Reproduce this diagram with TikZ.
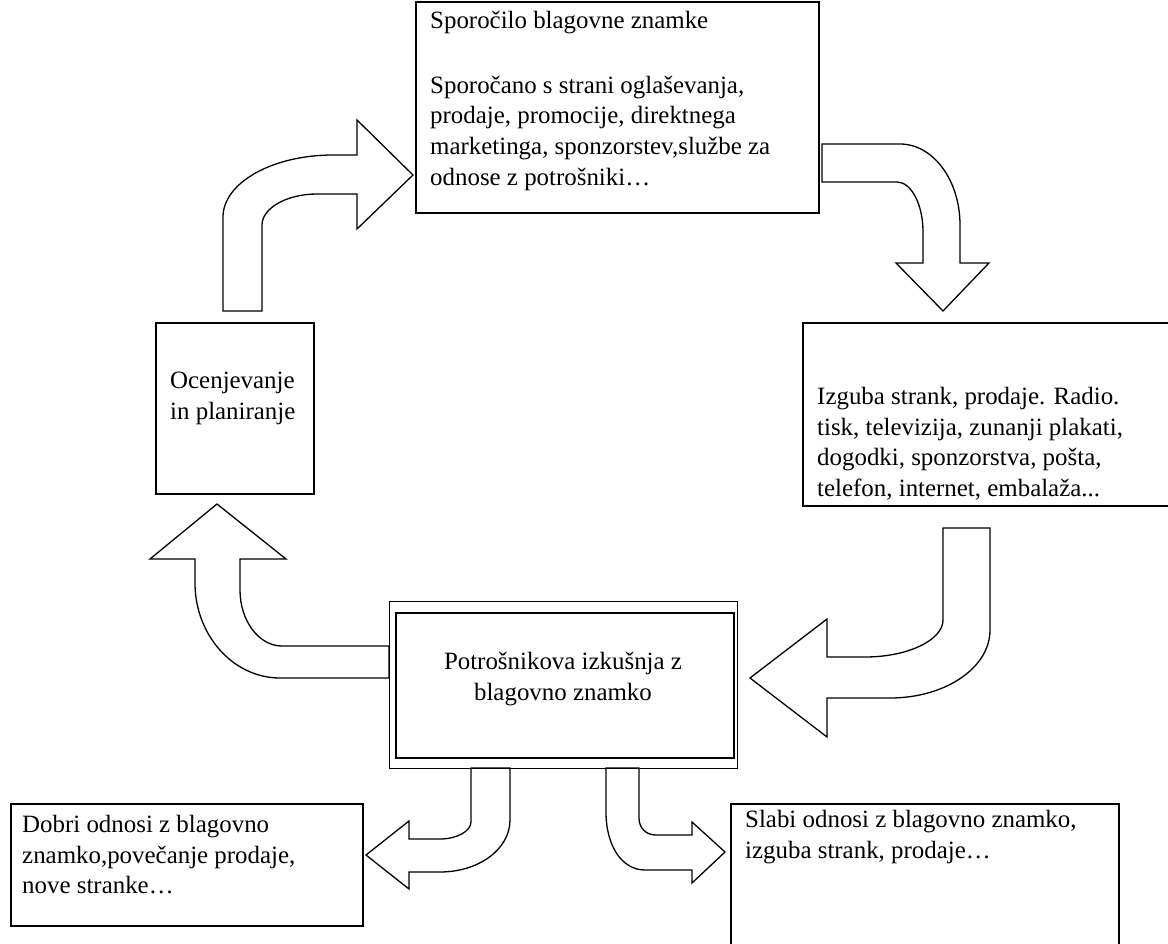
\documentclass[tikz,border=0pt]{standalone}
\usepackage{fontspec}
\setmainfont{Liberation Serif}
\usetikzlibrary{positioning}

\tikzset{
  box/.style={draw, line width=1.5bp, inner sep=0pt, anchor=north west},
  boxtext/.style={inner sep=0pt, anchor=north west, align=left,
    font=\fontsize{25}{31}\selectfont},
  bentarrow/.style={draw, line width=1.3bp, line join=miter, fill=white},
}

\begin{document}
\begin{tikzpicture}[x=1bp,y=-1bp]
\useasboundingbox (0,0) rectangle (1168,944);
\clip (0,0) rectangle (1168,944);

% block arrows
\draw[bentarrow] (223,311) -- (223,217) .. controls (223,183) and (272,155) .. (333,155)
  -- (357,155) -- (357,120) -- (413,175) -- (357,229) -- (357,194) -- (317,194)
  .. controls (287,194) and (262,208) .. (262,225) -- (262,311) -- cycle;
\draw[bentarrow] (822,144) -- (900,144) .. controls (933,144) and (960,180) .. (960,225)
  -- (960,263) -- (989,263) -- (943,311) -- (896,263) -- (923,263) -- (923,232)
  .. controls (923,204) and (911,182) .. (897,182) -- (822,182) -- cycle;
\draw[bentarrow] (943,528) -- (990,528) -- (990,630) .. controls (990,668) and (945,698) .. (890,698)
  -- (827,698) -- (827,737) -- (750,678) -- (827,619) -- (827,657) -- (865,657)
  .. controls (908,657) and (943,640) .. (943,620) -- cycle;
\draw[bentarrow] (389,646) -- (282,646) .. controls (259,646) and (240,621) .. (240,590)
  -- (240,559) -- (286,559) -- (217,504) -- (150,559) -- (195,559) -- (195,583)
  .. controls (195,635) and (233,678) .. (280,678) -- (389,678) -- cycle;
\draw[bentarrow] (471,768) -- (471,822) .. controls (471,831) and (457,839) .. (440,839)
  -- (409,839) -- (409,821) -- (366,855) -- (409,889) -- (409,872) -- (440,872)
  .. controls (479,872) and (510,849) .. (510,820) -- (510,768) -- cycle;
\draw[bentarrow] (606,768) -- (606,812) .. controls (606,846) and (622,870) .. (645,870)
  -- (692,870) -- (692,883) -- (725,852) -- (692,822) -- (692,835) -- (656,835)
  .. controls (646,835) and (639,828) .. (639,818) -- (639,768) -- cycle;

% boxes
\node[box, minimum width=403bp, minimum height=211bp] (message) at (415,1) {};
\node[box, minimum width=400bp, minimum height=183bp] (media) at (802,322) {};
\node[box, minimum width=158bp, minimum height=171bp] (plan) at (155,322) {};
\node[box, line width=1bp, minimum width=348bp, minimum height=167bp] (experience) at (389,601) {};
\node[box, line width=1.8bp, minimum width=338bp, minimum height=145bp] (experiencein) at (395,612) {};
\node[box, minimum width=352bp, minimum height=122bp] (good) at (10,803) {};
\node[box, minimum width=388bp, minimum height=160bp] (weak) at (730,803) {};

% texts
\node[boxtext] (messagetext) at (430,6.3) {\strut Sporočilo blagovne znamke\\[34bp]
  Sporočano s strani oglaševanja,\\
  prodaje, promocije, direktnega\\
  marketinga, sponzorstev,službe za\\
  odnose z potrošniki…};
\node[boxtext] (mediatext) at (817,382.3) {\strut Izguba strank, prodaje. Radio.\\
  tisk, televizija, zunanji plakati,\\
  dogodki, sponzorstva, pošta,\\
  telefon, internet, embalaža...};
\node[boxtext] (plantext) at (170,366.3) {\strut Ocenjevanje\\ in planiranje};
\node[boxtext, anchor=north, align=center] (experiencetext) at (563,647.3)
  {\strut Potrošnikova izkušnja z\\ blagovno znamko};
\node[boxtext] (goodtext) at (22,810.3) {\strut Dobri odnosi z blagovno\\
  znamko,povečanje prodaje,\\
  nove stranke…};
\node[boxtext] (weaktext) at (745,805.3) {\strut Slabi odnosi z blagovno znamko,\\
  izguba strank, prodaje…};
\end{tikzpicture}
\end{document}
